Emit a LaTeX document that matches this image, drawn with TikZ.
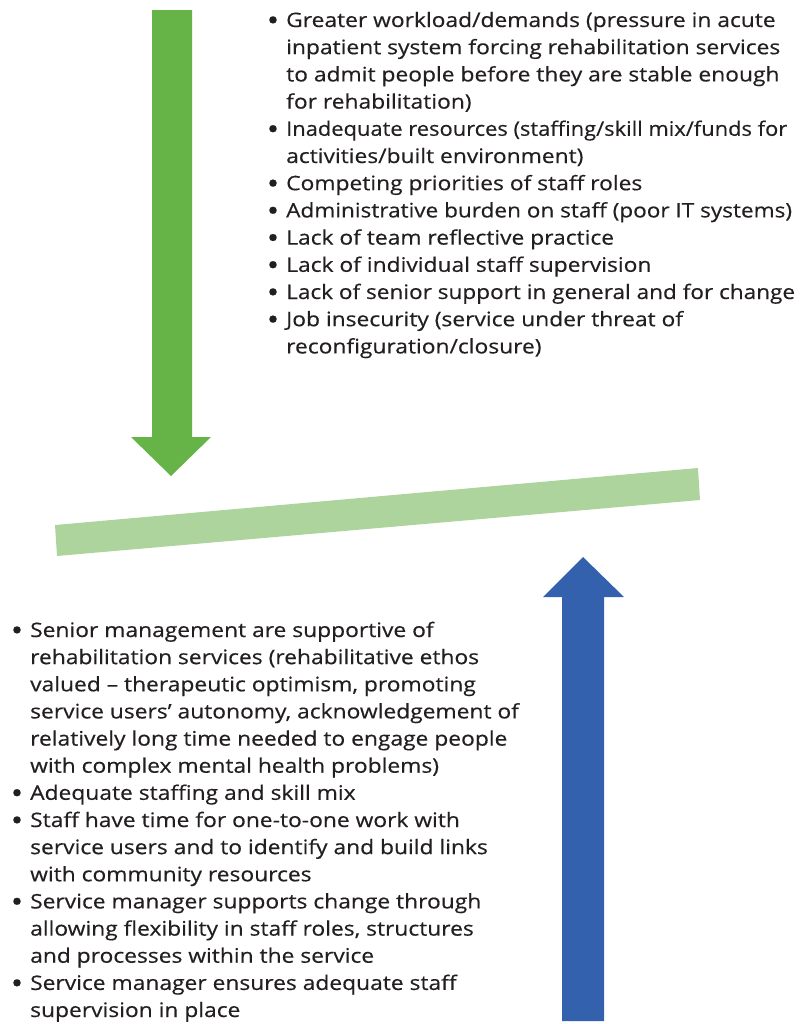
\documentclass[tikz,border=0pt]{standalone}
\usepackage{graphicx}
\usepackage{fontspec}
\setmainfont{Open Sans}[FakeStretch=1.14,FakeBold=0.4]
\definecolor{arrgreen}{HTML}{66B447}
\definecolor{bargreen}{HTML}{AED49E}
\definecolor{arrblue}{HTML}{3461AD}
\definecolor{txt}{HTML}{231F20}
\begin{document}
\begin{tikzpicture}[x=1bp,y=-1bp,
  tline/.style={anchor=base west, inner sep=0pt, font=\fontsize{20bp}{24bp}\selectfont, text=txt},
  bul/.style={anchor=base, inner sep=0pt, yshift=-3.5bp, font=\fontsize{29bp}{30bp}\selectfont, text=txt}]
\useasboundingbox (0,0) rectangle (803,1024);
% shapes
\fill[arrgreen] (152,10) -- (192,10) -- (192,437) -- (211,437) -- (171,476) -- (131,437) -- (152,437) -- cycle;
\fill[bargreen] (55,525) -- (698,468) -- (700,500) -- (57,556) -- cycle;
\fill[arrblue] (583,557) -- (624,597) -- (604,597) -- (604,1021) -- (562,1021) -- (562,597) -- (543,597) -- cycle;
% top text
\def\tx{286}
\def\bx{273}
\node[bul] (tb1) at (\bx,27) {•};
\node[tline] (t1) at (\tx,27) {Greater workload/demands (pressure in acute};
\node[tline] (t2) at (\tx,54.2) {inpatient system forcing rehabilitation services};
\node[tline] (t3) at (\tx,81.4) {to admit people before they are stable enough};
\node[tline] (t4) at (\tx,108.6) {for rehabilitation)};
\node[bul] (tb2) at (\bx,135.8) {•};
\node[tline] (t5) at (\tx,135.8) {\scalebox{0.96}[1]{Inadequate resources (staffing/skill mix/funds for}};
\node[tline] (t6) at (\tx,163) {activities/built environment)};
\node[bul] (tb3) at (\bx,190.2) {•};
\node[tline] (t7) at (\tx,190.2) {Competing priorities of staff roles};
\node[bul] (tb4) at (\bx,217.4) {•};
\node[tline] (t8) at (\tx,217.4) {\scalebox{0.99}[1]{Administrative burden on staff (poor IT systems)}};
\node[bul] (tb5) at (\bx,244.6) {•};
\node[tline] (t9) at (\tx,244.6) {Lack of team reflective practice};
\node[bul] (tb6) at (\bx,271.8) {•};
\node[tline] (t10) at (\tx,271.8) {Lack of individual staff supervision};
\node[bul] (tb7) at (\bx,299) {•};
\node[tline] (t11) at (\tx,299) {\scalebox{0.99}[1]{Lack of senior support in general and for change}};
\node[bul] (tb8) at (\bx,326.2) {•};
\node[tline] (t12) at (\tx,326.2) {Job insecurity (service under threat of};
\node[tline] (t13) at (\tx,353.4) {reconfiguration/closure)};
% bottom text
\def\ux{30}
\def\vx{17}
\node[bul] (bb1) at (\vx,637) {•};
\node[tline] (b1) at (\ux,637) {Senior management are supportive of};
\node[tline] (b2) at (\ux,664.1) {rehabilitation services (rehabilitative ethos};
\node[tline] (b3) at (\ux,691.3) {valued – therapeutic optimism, promoting};
\node[tline] (b4) at (\ux,718.4) {service users’ autonomy, acknowledgement of};
\node[tline] (b5) at (\ux,745.6) {relatively long time needed to engage people};
\node[tline] (b6) at (\ux,772.7) {with complex mental health problems)};
\node[bul] (bb2) at (\vx,799.8) {•};
\node[tline] (b7) at (\ux,799.8) {Adequate staffing and skill mix};
\node[bul] (bb3) at (\vx,827) {•};
\node[tline] (b8) at (\ux,827) {Staff have time for one-to-one work with};
\node[tline] (b9) at (\ux,854.1) {service users and to identify and build links};
\node[tline] (b10) at (\ux,881.3) {with community resources};
\node[bul] (bb4) at (\vx,908.4) {•};
\node[tline] (b11) at (\ux,908.4) {Service manager supports change through};
\node[tline] (b12) at (\ux,935.6) {allowing flexibility in staff roles, structures};
\node[tline] (b13) at (\ux,962.7) {and processes within the service};
\node[bul] (bb5) at (\vx,989.9) {•};
\node[tline] (b14) at (\ux,989.9) {Service manager ensures adequate staff};
\node[tline] (b15) at (\ux,1017) {supervision in place};
\end{tikzpicture}
\end{document}
